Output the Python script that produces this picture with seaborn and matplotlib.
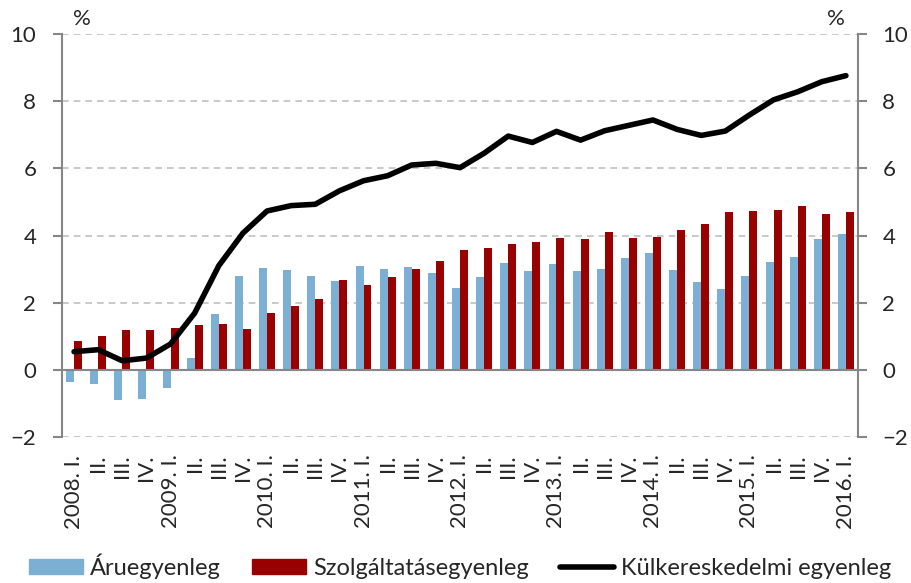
import numpy as np
import pandas as pd
import seaborn as sns
import matplotlib.pyplot as plt
from matplotlib.patches import Patch
from matplotlib.lines import Line2D

# quarters 2008 I - 2016 I
years = ['2008', '2009', '2010', '2011', '2012', '2013', '2014', '2015', '2016']
romans = ['I.', 'II.', 'III.', 'IV.']
labels = []
for y in years:
    for q in romans:
        if y == '2016' and q != 'I.':
            break
        labels.append(y + '. ' + q if q == 'I.' else q)

aru = [-0.35, -0.43, -0.91, -0.88, -0.54, 0.35, 1.67, 2.78, 3.03, 2.96, 2.78, 2.65,
       3.10, 3.01, 3.06, 2.88, 2.45, 2.77, 3.19, 2.94, 3.15, 2.93,
       3.01, 3.34, 3.48, 2.97, 2.62, 2.41, 2.78, 3.21, 3.36, 3.89, 4.05]
szolg = [0.86, 1.02, 1.18, 1.20, 1.26, 1.33, 1.37, 1.23, 1.69, 1.91, 2.11, 2.68,
         2.52, 2.76, 3.00, 3.24, 3.56, 3.64, 3.76, 3.81, 3.93, 3.89,
         4.10, 3.92, 3.96, 4.17, 4.35, 4.70, 4.73, 4.76, 4.88, 4.65, 4.70]
kulker = [0.54, 0.60, 0.27, 0.35, 0.77, 1.69, 3.10, 4.07, 4.73, 4.89, 4.93, 5.33,
          5.63, 5.78, 6.10, 6.15, 6.02, 6.45, 6.96, 6.77, 7.10, 6.84,
          7.12, 7.28, 7.44, 7.16, 6.98, 7.11, 7.59, 8.04, 8.28, 8.58, 8.76]

series_names = ['Áruegyenleg', 'Szolgáltatásegyenleg', 'Külkereskedelmi egyenleg']
blue = '#7BAFD4'
red = '#990000'
gray = '#868686'

n = len(labels)
# labels repeat (II., III., ...) so bars are keyed by position
df = pd.DataFrame({'pos': list(range(n)) * 2,
                   'value': aru + szolg,
                   'series': [series_names[0]] * n + [series_names[1]] * n})

sns.set_style('white')
plt.rcParams['font.family'] = ['Lato', 'DejaVu Sans']
plt.rcParams['font.size'] = 16

fig = plt.figure(figsize=(9.11, 5.83), dpi=100)
ax = fig.add_axes([62 / 911, 1 - 437 / 583, (858 - 62) / 911, (437 - 34) / 583])

sns.barplot(data=df, x='pos', y='value', hue='series', palette=[blue, red],
            width=0.66, saturation=1, linewidth=0, legend=False, ax=ax)
sns.lineplot(x=np.arange(n), y=kulker, color='black', linewidth=4, ax=ax)

ax.set_xlim(-0.5, n - 0.5)
ax.set_ylim(-2, 10)
ax.set_yticks(range(-2, 11, 2))
ax.set_xlabel('')
ax.set_ylabel('')
ax.grid(axis='y', linestyle=(0, (4, 3)), color='#C0C0C0', linewidth=1.2)
ax.set_axisbelow(True)

for s in ['top', 'right']:
    ax.spines[s].set_visible(False)
ax.spines['left'].set_color(gray)
ax.spines['left'].set_linewidth(1.5)
ax.spines['bottom'].set_position(('data', 0))
ax.spines['bottom'].set_color(gray)
ax.spines['bottom'].set_linewidth(1.5)
ax.spines['bottom'].set_zorder(1)

ax.set_xticks(range(n))
ax.set_xticklabels(labels, rotation=90)
ax.set_xticks(np.arange(n + 1) - 0.5, minor=True)
ax.tick_params(axis='x', which='major', length=0, pad=61)
ax.tick_params(axis='x', which='minor', length=6, width=1.5, color=gray, direction='out')
ax.tick_params(axis='y', length=6.5, width=1.5, color=gray, pad=12)

ax2 = ax.twinx()
ax2.set_ylim(-2, 10)
ax2.set_yticks(range(-2, 11, 2))
for s in ['top', 'left', 'bottom']:
    ax2.spines[s].set_visible(False)
ax2.spines['right'].set_color(gray)
ax2.spines['right'].set_linewidth(1.5)
ax2.tick_params(axis='y', length=6.5, width=1.5, color=gray, pad=11)

ax.text(0.014, 1.012, '%', transform=ax.transAxes, ha='left', va='bottom', fontsize=16)
ax.text(0.984, 1.012, '%', transform=ax.transAxes, ha='right', va='bottom', fontsize=16)

handles = [Patch(color=blue), Patch(color=red), Line2D([], [], color='black', linewidth=4)]
fig.legend(handles, series_names, loc='lower center', bbox_to_anchor=(0.505, -0.03),
           ncol=3, frameon=False, handlelength=2.3, handleheight=0.6,
           handletextpad=0.3, columnspacing=1.3, fontsize=17)

fig.savefig('out.png', dpi=100)
